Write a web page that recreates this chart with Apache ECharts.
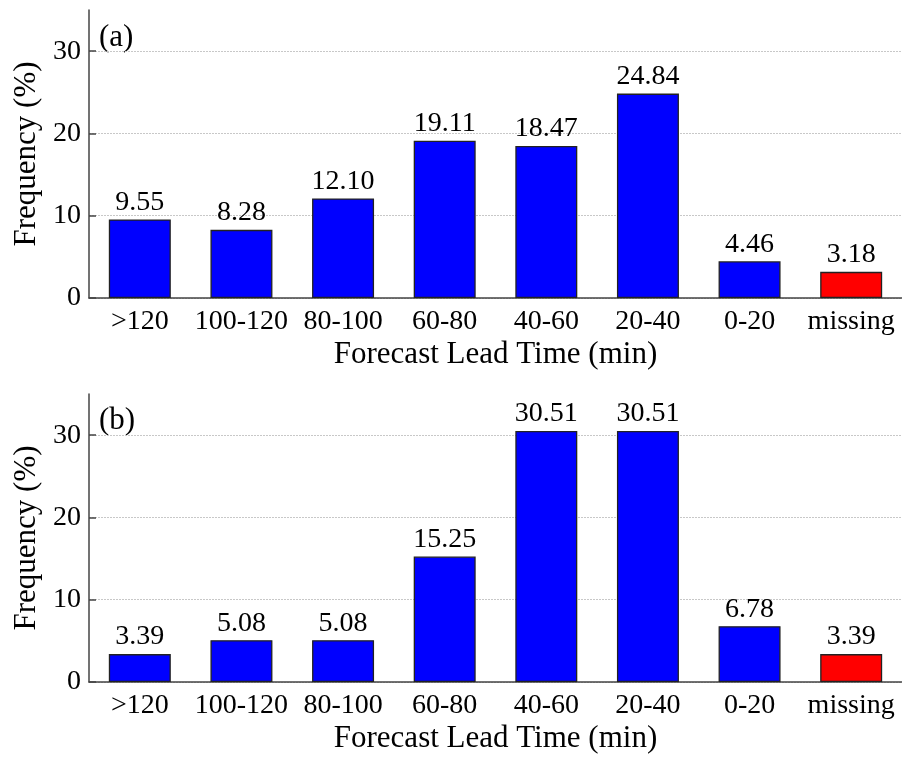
<!DOCTYPE html>
<html><head><meta charset="utf-8">
<script src="https://cdn.jsdelivr.net/npm/echarts@6/dist/echarts.min.js"></script>
<style>html,body{margin:0;padding:0;background:#fff}#c{width:902px;height:757px}</style>
</head><body><div id="c"></div>
<script>
const categories = ['>120','100-120','80-100','60-80','40-60','20-40','0-20','missing'];
const valuesA = [9.55, 8.28, 12.10, 19.11, 18.47, 24.84, 4.46, 3.18];
const valuesB = [3.39, 5.08, 5.08, 15.25, 30.51, 30.51, 6.78, 3.39];
const yTicks = [0, 10, 20, 30];
const panelLabels = ['(a)', '(b)'];
const xName = 'Forecast Lead Time (min)';
const yName = 'Frequency (%)';

const FONT = '"Liberation Serif","Times New Roman",serif';
const grids = [{left:89, width:816, top:10, height:288}, {left:89, width:816, top:394, height:288}];
function xAxis(i){return {
  type:'category', gridIndex:i, data:categories,
  axisLine:{lineStyle:{color:'#444', width:1.5}}, axisTick:{show:false},
  axisLabel:{color:'#000', fontFamily:FONT, fontSize:28, margin:10, interval:0},
  name:xName, nameLocation:'middle', nameGap:41,
  nameTextStyle:{color:'#000', fontFamily:FONT, fontSize:31}
};}
function yAxis(i){return {
  type:'value', gridIndex:i, min:0, max:35, interval:10,
  axisLine:{show:true, lineStyle:{color:'#444', width:1.5}},
  axisTick:{show:true, inside:true, length:7, lineStyle:{color:'#444', width:1.5}, customValues:yTicks},
  axisLabel:{color:'#000', fontFamily:FONT, fontSize:28, margin:8, customValues:yTicks},
  splitLine:{show:true, lineStyle:{color:'#c8c8c8', type:[2,1], width:1}},
  name:yName, nameLocation:'middle', nameGap:44,
  nameTextStyle:{color:'#000', fontFamily:FONT, fontSize:31}
};}
function series(i, vals){return {
  type:'bar', xAxisIndex:i, yAxisIndex:i, barWidth:'61%',
  data: vals.map((v,k)=>({value:v, itemStyle:{color: categories[k]==='missing' ? '#ff0000' : '#0000ff'}})),
  itemStyle:{borderColor:'#222', borderWidth:1.3},
  label:{show:true, position:'top', distance:3, color:'#000', fontFamily:FONT, fontSize:28,
    formatter:p=>p.value.toFixed(2)}
};}
const chart = echarts.init(document.getElementById('c'));
chart.setOption({
  animation:false,
  grid:grids,
  xAxis:[xAxis(0), xAxis(1)],
  yAxis:[yAxis(0), yAxis(1)],
  series:[series(0, valuesA), series(1, valuesB)],
  graphic:[
    {type:'text', left:99, top:22, style:{text:panelLabels[0], font:'31px '+FONT, fill:'#000'}},
    {type:'text', left:99, top:405, style:{text:panelLabels[1], font:'31px '+FONT, fill:'#000'}}
  ]
});
</script></body></html>
